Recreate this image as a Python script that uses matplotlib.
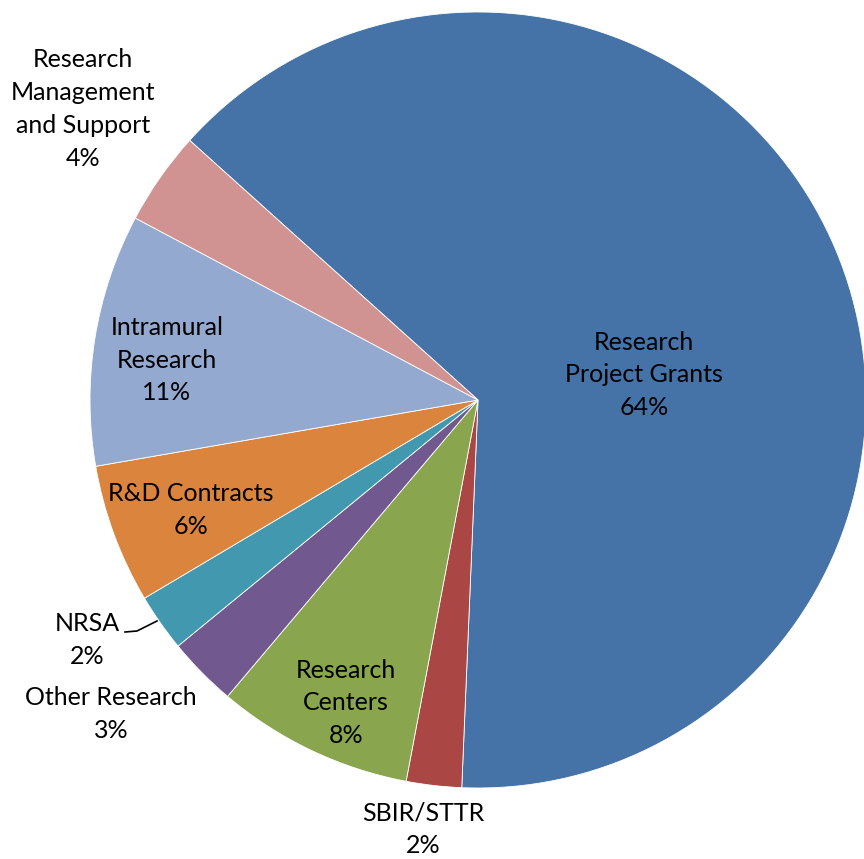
import matplotlib
matplotlib.use('Agg')
import matplotlib.pyplot as plt

# slice data (clockwise from upper left)
categories = ['Research\nProject Grants', 'SBIR/STTR', 'Research\nCenters', 'Other Research',
              'NRSA', 'R&D Contracts', 'Intramural\nResearch', 'Research\nManagement\nand Support']
shares = [64.0, 2.3, 8.2, 2.9, 2.4, 5.8, 10.5, 3.9]
pct_labels = ['64%', '2%', '8%', '3%', '2%', '6%', '11%', '4%']
colors = ['#4572A7', '#AA4643', '#89A54E', '#71588F', '#4198AF', '#DB843D', '#93A9CF', '#D19392']

# label centres in pixels (from top-left)
label_pos = [(644, 375), (423, 829), (346, 703), (111, 714),
             (87, 640), (191, 510), (167, 360), (83, 109)]

W, H = 864, 859
fig = plt.figure(figsize=(W / 100, H / 100), dpi=100)
ax = fig.add_axes([0, 0, 1, 1])

cx, cy, r = 478, 400, 388
ax.pie(shares, colors=colors, startangle=138, counterclock=False,
       center=(cx, H - cy), radius=r,
       wedgeprops=dict(linewidth=0.6, edgecolor='white'))
ax.set_xlim(0, W)
ax.set_ylim(0, H)
ax.set_aspect('equal')
ax.axis('off')

for name, pct, (x, y) in zip(categories, pct_labels, label_pos):
    ax.text(x, H - y, name + '\n' + pct, ha='center', va='center',
            fontsize=18, family='Lato', linespacing=1.52, color='black')

# NRSA leader line
ax.plot([125, 137, 157], [H - 632, H - 631, H - 621], color='black', lw=1.2)

fig.savefig('out.png', dpi=100)
